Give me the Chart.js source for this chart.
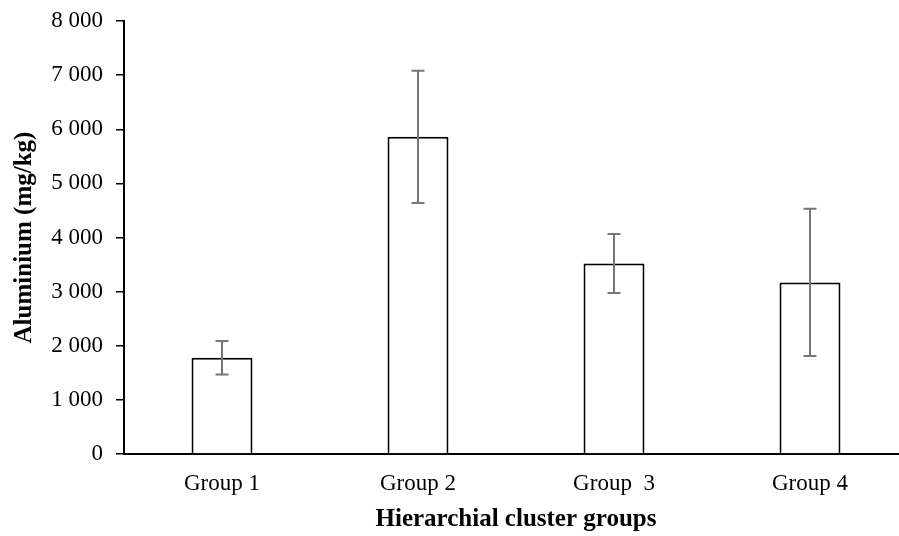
<!DOCTYPE html>
<html>
<head>
<meta charset="utf-8">
<script src="https://cdn.jsdelivr.net/npm/chart.js@4"></script>
<style>
    html, body { margin: 0; padding: 0; background: #fff; overflow: hidden; }
    #wrap { width: 908px; height: 536px; position: relative; }
</style>
</head>
<body>
<div id="wrap"><canvas id="alu-chart"></canvas></div>
<script>
var groups = ["Group 1", "Group 2", "Group  3", "Group 4"];
var aluminium = [1780, 5860, 3520, 3170];
var errors = [310, 1220, 545, 1360];

// draws the +/- error bars over each bar
var errorBars = {
    id: "errorBars",
    afterDatasetsDraw: function (chart) {
        var ctx = chart.ctx;
        var y = chart.scales.y;
        var meta = chart.getDatasetMeta(0);
        ctx.save();
        ctx.strokeStyle = "#767676";
        ctx.lineWidth = 2;
        meta.data.forEach(function (bar, i) {
            var top = y.getPixelForValue(aluminium[i] + errors[i]);
            var bot = y.getPixelForValue(aluminium[i] - errors[i]);
            ctx.beginPath();
            ctx.moveTo(bar.x, top);
            ctx.lineTo(bar.x, bot);
            ctx.moveTo(bar.x - 6.5, top);
            ctx.lineTo(bar.x + 6.5, top);
            ctx.moveTo(bar.x - 6.5, bot);
            ctx.lineTo(bar.x + 6.5, bot);
            ctx.stroke();
        });
        ctx.restore();
    }
};

document.addEventListener("DOMContentLoaded", function () {
    var ctx = document.getElementById("alu-chart").getContext("2d");
    var chart = new Chart(ctx, {
        type: "bar",
        data: {
            labels: groups,
            datasets: [{
                label: "Aluminium (mg/kg)",
                data: aluminium,
                backgroundColor: "#ffffff",
                borderColor: "#000000",
                borderWidth: 2,
                barPercentage: 0.311,
                categoryPercentage: 1
            }]
        },
        options: {
            responsive: true,
            maintainAspectRatio: false,
            animation: false,
            layout: { padding: { top: 20, right: 0, bottom: 0, left: 0 } },
            plugins: {
                legend: { display: false },
                tooltip: { enabled: false }
            },
            scales: {
                x: {
                    grid: { display: false },
                    border: { display: true, color: "#000", width: 2 },
                    ticks: {
                        color: "#000",
                        padding: 8,
                        font: { family: "Liberation Serif", size: 23 }
                    },
                    title: {
                        display: true,
                        text: "Hierarchial cluster groups",
                        color: "#000",
                        padding: { top: 0, bottom: 1 },
                        font: { family: "Liberation Serif", size: 25, weight: "bold" }
                    },
                    afterFit: function (scale) { scale.height = 82; }
                },
                y: {
                    min: 0,
                    max: 8000,
                    grid: { drawOnChartArea: false, drawTicks: true, tickLength: 8, color: "#000", lineWidth: 1.5 },
                    border: { display: true, color: "#000", width: 2 },
                    ticks: {
                        stepSize: 1000,
                        color: "#000",
                        padding: 13,
                        font: { family: "Liberation Serif", size: 23, lineHeight: 0.7 },
                        callback: function (v) {
                            return String(v).replace(/\B(?=(\d{3})+(?!\d))/g, " ");
                        }
                    },
                    title: {
                        display: true,
                        text: "Aluminium (mg/kg)",
                        color: "#000",
                        padding: { top: 10, bottom: 0 },
                        font: { family: "Liberation Serif", size: 25, weight: "bold" }
                    },
                    afterFit: function (scale) { scale.width = 124; }
                }
            }
        },
        plugins: [errorBars]
    });
});
</script>
</body>
</html>
